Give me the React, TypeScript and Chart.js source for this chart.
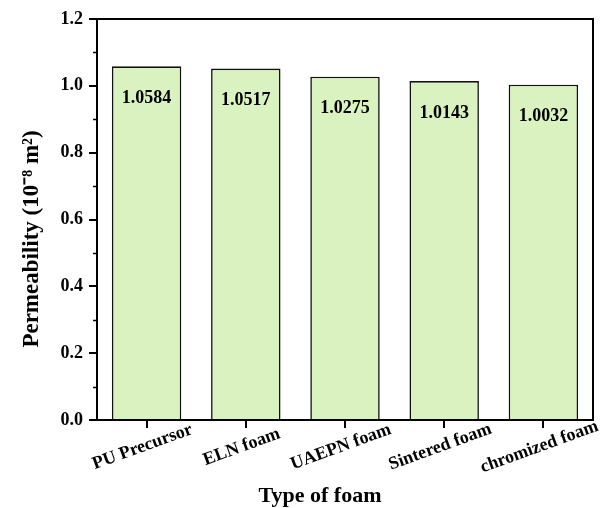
import React, { useEffect, useRef } from "react";
import { Chart, registerables } from "chart.js";

Chart.register(...registerables);

const categories = ["PU Precursor", "ELN foam", "UAEPN foam", "Sintered foam", "chromized foam"];
const permeability = [1.0584, 1.0517, 1.0275, 1.0143, 1.0032];
const yTicks = [0, 0.2, 0.4, 0.6, 0.8, 1.0, 1.2];
const yMinorTicks = [0.1, 0.3, 0.5, 0.7, 0.9, 1.1];
const xTitle = "Type of foam";
const yTitle = "Permeability (10\u207B\u2078 m\u00B2)";

const FONT = "'Liberation Serif', 'Times New Roman', serif";

const overlay = {
  id: "overlay",
  afterDraw(chart: any) {
    const { ctx, chartArea, scales } = chart;
    const x = scales.x;
    const y = scales.y;
    ctx.save();
    ctx.strokeStyle = "#000";
    ctx.lineWidth = 2;
    // top and right frame
    ctx.beginPath();
    ctx.moveTo(chartArea.left, chartArea.top);
    ctx.lineTo(chartArea.right, chartArea.top);
    ctx.lineTo(chartArea.right, chartArea.bottom);
    ctx.stroke();
    // minor y ticks
    ctx.lineWidth = 1.5;
    yMinorTicks.forEach((v) => {
      const py = Math.round(y.getPixelForValue(v)) + 0.5;
      ctx.beginPath();
      ctx.moveTo(chartArea.left - 4, py);
      ctx.lineTo(chartArea.left, py);
      ctx.stroke();
    });
    ctx.fillStyle = "#000";
    // bar value labels
    ctx.font = `bold 18px ${FONT}`;
    ctx.textAlign = "center";
    ctx.textBaseline = "middle";
    const meta = chart.getDatasetMeta(0);
    meta.data.forEach((bar: any, i: number) => {
      ctx.fillText(permeability[i].toFixed(4), bar.x, bar.y + 32);
    });
    // x category labels, rotated
    categories.forEach((c, i) => {
      const px = x.getPixelForValue(i);
      ctx.save();
      ctx.translate(px - 4, chartArea.bottom + 27);
      ctx.rotate((-20 * Math.PI) / 180);
      ctx.fillText(c, 0, 0);
      ctx.restore();
    });
    // x title
    ctx.font = `bold 22px ${FONT}`;
    ctx.fillText(xTitle, 320, 496);
    // y title
    ctx.save();
    ctx.translate(32, 239);
    ctx.rotate(-Math.PI / 2);
    ctx.font = `bold 23px ${FONT}`;
    ctx.fillText(yTitle, 0, 0);
    ctx.restore();
    ctx.restore();
  },
};

export default function App() {
  const ref = useRef<HTMLCanvasElement | null>(null);
  useEffect(() => {
    if (!ref.current) return;
    const chart = new Chart(ref.current, {
      type: "bar",
      data: {
        labels: categories,
        datasets: [
          {
            data: permeability,
            backgroundColor: "rgb(217, 242, 192)",
            borderColor: "#111",
            borderWidth: 1.6,
            categoryPercentage: 1.0,
            barPercentage: 0.7,
          },
        ],
      },
      options: {
        animation: false,
        responsive: true,
        maintainAspectRatio: false,
        layout: { padding: { left: 0, right: 8, top: 19, bottom: 0 } },
        plugins: { legend: { display: false }, tooltip: { enabled: false } },
        scales: {
          x: {
            offset: true,
            grid: { offset: false, drawOnChartArea: false, drawTicks: true, tickLength: 8, color: "#000", lineWidth: 2 },
            border: { display: true, color: "#000", width: 2 },
            ticks: { display: false },
            afterFit: (s: any) => {
              s.height = 88;
            },
          },
          y: {
            min: 0,
            max: 1.2,
            afterBuildTicks: (s: any) => {
              s.ticks = yTicks.map((v) => ({ value: v }));
            },
            ticks: {
              callback: (v: any) => Number(v).toFixed(1),
              font: { family: FONT, size: 18, weight: "bold" },
              color: "#000",
              padding: 6,
            },
            grid: { drawOnChartArea: false, drawTicks: true, tickLength: 8, color: "#000", lineWidth: 2 },
            border: { display: true, color: "#000", width: 2 },
            afterFit: (s: any) => {
              s.width = 97;
            },
          },
        },
      },
      plugins: [overlay],
    });
    return () => chart.destroy();
  }, []);
  return (
    <div style={{ position: "fixed", left: 0, top: 0, width: 601, height: 508, background: "#fff" }}>
      <canvas ref={ref} />
    </div>
  );
}
